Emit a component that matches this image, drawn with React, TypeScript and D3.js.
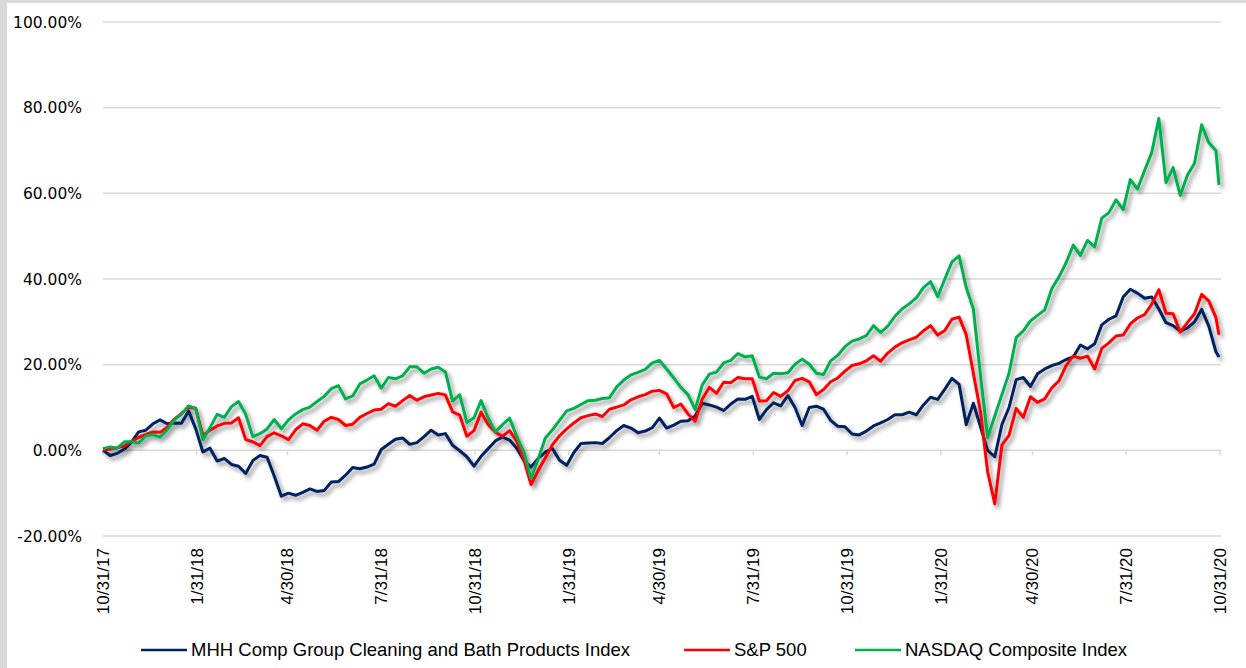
import React from "react";
import * as d3 from "d3";

// ---- Data ----
const seriesNames = [
  "MHH Comp Group Cleaning and Bath Products Index",
  "S&P 500",
  "NASDAQ Composite Index",
];
const seriesColors = ["#002060", "#FF0000", "#00B050"];

const mhhValues = [
  0, -1.2, -0.7, 0.3, 1.9, 4.3, 4.7, 6.2, 7.1, 6.2, 6.4, 6.3, 9.2, 5, -0.4, 0.5, -2.5, -1.9, -3.3, -3.7,
  -5.4, -2.4, -1.2, -1.6, -6, -10.7, -10, -10.5, -9.8, -9, -9.6, -9.4, -7.4, -7.3, -5.8, -4, -4.3, -3.9, -3.2, 0.2,
  1.4, 2.6, 2.9, 1.4, 1.8, 3.2, 4.7, 3.6, 3.9, 1.2, -0.1, -1.5, -3.7, -1.4, 0.4, 2.2, 3.1, 2.4, 0.5, -2.4,
  -3.9, -1.9, -0.4, 0.4, -2.3, -3.5, -0.5, 1.6, 1.7, 1.8, 1.6, 3, 4.6, 5.8, 5.2, 4.1, 4.5, 5.3, 7.5, 5.2,
  5.9, 6.8, 6.9, 8, 11, 10.6, 10.1, 9.3, 10.8, 12, 11.9, 12.6, 7.2, 9.5, 11.1, 10.4, 12.8, 10, 5.8, 10,
  10.3, 9.6, 7, 5.6, 5.5, 3.8, 3.6, 4.5, 5.7, 6.4, 7.2, 8.3, 8.3, 8.9, 8.3, 10.6, 12.4, 11.9, 14.3, 16.8,
  15.4, 6, 11, 5.5, 0, -1.5, 6, 10, 16.5, 17, 14.9, 17.9, 19, 19.8, 20.3, 21.2, 21.8, 24.6, 23.7, 24.9,
  29.3, 30.6, 31.4, 35.8, 37.6, 36.7, 35.5, 35.8, 33, 29.8, 29.1, 27.8, 28.6, 30, 32.9, 29, 23, 21.8,
];

const spxValues = [
  0, 0.3, 0.6, 1, 2.1, 3, 3.7, 4.3, 4.2, 5.4, 7.3, 8.6, 10, 9.8, 3.5, 4.7, 5.7, 6.3, 6.4, 7.6,
  2.5, 2, 1.1, 3.2, 4.1, 3.4, 2.5, 4.8, 6.2, 5.8, 4.7, 6.8, 7.7, 7.2, 5.8, 6.1, 7.7, 8.6, 9.4, 9.6,
  10.9, 10.3, 11.6, 12.8, 11.7, 12.5, 12.9, 13.3, 12.9, 9, 8.2, 3.3, 4.6, 8.9, 6, 4.2, 3.3, 4.6, 2.1, -2.2,
  -8, -4.7, -1.8, 1.3, 3.4, 5, 6.4, 7.6, 8.1, 8.5, 7.9, 9.6, 10.1, 10.6, 11.8, 12.5, 13, 13.8, 14, 13.2,
  10, 10.8, 8.5, 6.8, 12, 14.7, 13.3, 15.9, 15.8, 17, 16.7, 16.7, 11.5, 11.6, 13.5, 12.6, 13.9, 16.3, 16.8, 16,
  13, 14.2, 16, 16.9, 18.5, 19.8, 20.2, 20.9, 22.1, 20.8, 22.7, 24.1, 25.1, 25.8, 26.4, 27.9, 29.1, 26.9, 28, 30.6,
  31.1, 27, 18, 9, -5, -12.5, 1.2, 3.5, 9.8, 7.7, 12.5, 11.2, 12, 14.6, 16.2, 19.8, 22, 21.5, 22, 19,
  23.8, 25.1, 26.7, 26.9, 29.5, 30.9, 31.7, 34.1, 37.5, 32, 31.9, 27.6, 29.8, 31.9, 36.4, 34.9, 31, 27,
];

const nasdaqValues = [
  0.4, 0.8, 0.5, 2, 2, 1.7, 3.4, 3.7, 3.1, 4.8, 7.1, 8.4, 10.4, 9.8, 2.5, 5.3, 8.4, 7.7, 10.2, 11.4,
  8.4, 3.2, 3.9, 5, 7.2, 5, 7.1, 8.5, 9.5, 10.1, 11.4, 12.6, 14.4, 15.1, 12, 12.7, 15.5, 16.4, 17.4, 14.5,
  17, 16.7, 17.4, 19.5, 19.5, 18, 19, 19.4, 18.3, 11.5, 13, 6.5, 7.6, 11.6, 7.5, 4.3, 6, 7.5, 3.2, -0.5,
  -6.5, -2, 2.9, 4.8, 7, 9.2, 9.8, 10.7, 11.6, 11.7, 12.1, 12.3, 14.8, 16.4, 17.6, 18.2, 18.9, 20.4, 21, 19,
  16.9, 14.7, 13, 9.5, 15.3, 17.8, 18.3, 20.4, 21, 22.6, 21.8, 22.1, 17.1, 16.7, 18, 17.9, 18.1, 20.1, 21.3, 20.1,
  18, 17.7, 20.9, 22.2, 24.2, 25.5, 26, 26.8, 29.1, 27.5, 29, 31.3, 33, 34.2, 35.6, 38, 39.4, 35.9, 40, 44,
  45.4, 38, 33, 17.5, 3, 8, 13, 18, 26.3, 27.9, 30.2, 31.5, 32.8, 37.8, 40.5, 43.8, 47.9, 45.5, 49, 47.5,
  54.2, 55.5, 58.5, 56.2, 63.2, 61, 65.3, 69.5, 77.5, 62.5, 66, 59.5, 64.2, 67, 76, 71.8, 70, 62,
];

const allSeries = [mhhValues, spxValues, nasdaqValues];

const tickDates = [
  "10/31/17", "1/31/18", "4/30/18", "7/31/18", "10/31/18", "1/31/19", "4/30/19",
  "7/31/19", "10/31/19", "1/31/20", "4/30/20", "7/31/20", "10/31/20",
];
const yTicks = [-20, 0, 20, 40, 60, 80, 100];

// weekly observation dates from 10/31/17, last on 10/30/20
const parseMDY = d3.timeParse("%m/%d/%y");
const startDate = new Date(2017, 9, 31);
const endDate = new Date(2020, 9, 31);
const obsDates = mhhValues.map((_, i) =>
  i < mhhValues.length - 1 ? d3.timeDay.offset(startDate, 7 * i) : new Date(2020, 9, 30)
);

// ---- Layout ----
const W = 1246;
const H = 668;
const plot = { left: 103, right: 1220, top: 22, bottom: 536 };
const legendItems = [
  { lineX: 141, textX: 191 },
  { lineX: 684, textX: 734 },
  { lineX: 855, textX: 905 },
];

export default function App() {
  const x = d3.scaleTime().domain([startDate, endDate]).range([plot.left, plot.right]);
  const y = d3.scaleLinear().domain([-20, 100]).range([plot.bottom, plot.top]);
  const line = d3
    .line<number>()
    .x((_, i) => x(obsDates[i]))
    .y((d) => y(d))
    .curve(d3.curveLinear);

  const labelFont = "'Liberation Sans', Arial, sans-serif";

  return (
    <svg
      width={W}
      height={H}
      style={{ position: "absolute", left: 0, top: 0, background: "#fff" }}
    >
      <defs>
        <filter id="shadow" x="-5%" y="-5%" width="110%" height="120%">
          <feDropShadow dx="3" dy="3.5" stdDeviation="2.2" floodColor="#000" floodOpacity="0.42" />
        </filter>
      </defs>
      <rect x={0} y={0} width={W} height={H} fill="#fff" />
      <rect x={0} y={0} width={W} height={3} fill="#d9d9d9" />
      <rect x={0} y={0} width={7} height={H} fill="#d9d9d9" />

      {/* gridlines */}
      {yTicks.map((t) => (
        <line
          key={t}
          x1={plot.left}
          x2={plot.right + 1}
          y1={y(t)}
          y2={y(t)}
          stroke="#d9d9d9"
          strokeWidth={1.5}
        />
      ))}
      {/* y labels */}
      {yTicks.map((t) => (
        <text
          key={"l" + t}
          x={82}
          y={y(t)}
          dy="0.36em"
          textAnchor="end"
          fontFamily="'DejaVu Sans', Verdana, sans-serif"
          fontSize={15.5}
          fill="#000"
        >
          {t.toFixed(2) + "%"}
        </text>
      ))}
      {/* x ticks */}
      {tickDates.map((s) => {
        const d = parseMDY(s)!;
        const xx = x(d);
        return (
          <g key={s}>
            <line x1={xx} x2={xx} y1={y(0)} y2={y(0) + 5} stroke="#d9d9d9" strokeWidth={1.5} />
            <text
              transform={`translate(${xx},548) rotate(-90)`}
              textAnchor="end"
              dy="0.35em"
              fontFamily={labelFont}
              fontSize={17}
              fill="#000"
            >
              {s}
            </text>
          </g>
        );
      })}

      {/* series */}
      <g filter="url(#shadow)">
        {allSeries.map((vals, k) => (
          <path
            key={k}
            d={line(vals) || ""}
            fill="none"
            stroke={seriesColors[k]}
            strokeWidth={3}
            strokeLinejoin="round"
          />
        ))}
      </g>

      {/* legend */}
      {seriesNames.map((name, k) => (
        <g key={name}>
          <line
            x1={legendItems[k].lineX}
            x2={legendItems[k].lineX + 46}
            y1={650}
            y2={650}
            stroke={seriesColors[k]}
            strokeWidth={2.5}
          />
          <text
            x={legendItems[k].textX}
            y={650}
            dy="0.35em"
            fontFamily={labelFont}
            fontSize={18.5}
            fill="#000"
          >
            {name}
          </text>
        </g>
      ))}
    </svg>
  );
}
